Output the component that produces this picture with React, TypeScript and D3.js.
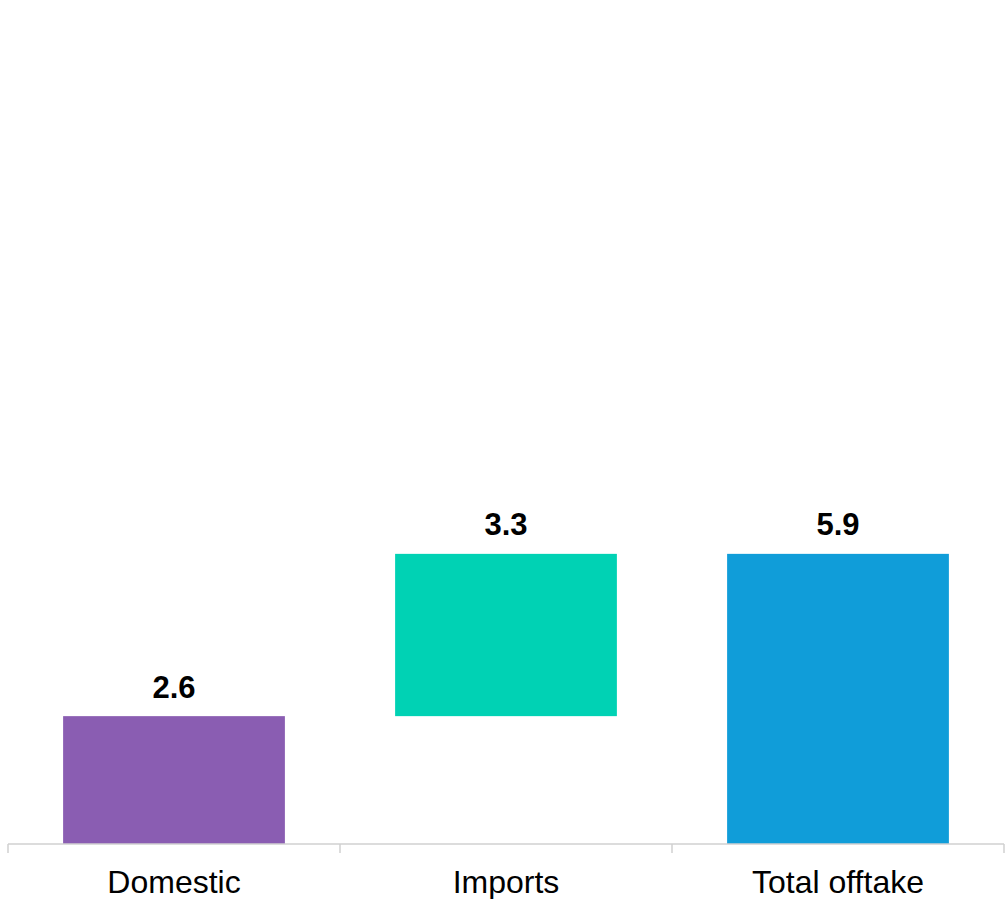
import React from "react";
import * as d3 from "d3";

const categories = ["Domestic", "Imports", "Total offtake"];
const startValues = [0, 2.6, 0];
const endValues = [2.6, 5.9, 5.9];
const labelValues = ["2.6", "3.3", "5.9"];
const colors = ["#8a5db2", "#00d2b4", "#109dd9"];

const W = 1005;
const H = 899;

export default function App() {
  const x = d3
    .scaleBand<string>()
    .domain(categories)
    .range([8, 1004])
    .paddingInner(0.332)
    .paddingOuter(0.166);
  const y = d3.scaleLinear().domain([0, 17]).range([844, 8]);
  const tickXs = [0, 1, 2, 3].map((i) => 8 + i * ((1004 - 8) / 3));
  const font = "Liberation Sans, Arial, sans-serif";

  return (
    <svg
      width={W}
      height={H}
      style={{ position: "absolute", left: 0, top: 0, background: "#fff" }}
      fontFamily={font}
    >
      {categories.map((c, i) => {
        const x0 = x(c)!;
        const top = y(Math.max(startValues[i], endValues[i]));
        const bot = y(Math.min(startValues[i], endValues[i]));
        return (
          <g key={c}>
            <rect x={x0} y={top} width={x.bandwidth()} height={bot - top} fill={colors[i]} />
            <text
              x={x0 + x.bandwidth() / 2}
              y={top - 18.5}
              textAnchor="middle"
              fontWeight="bold"
              fontSize={31}
              fill="#000"
            >
              {labelValues[i]}
            </text>
            <text
              x={x0 + x.bandwidth() / 2}
              y={893}
              textAnchor="middle"
              fontSize={32}
              fill="#000"
            >
              {c}
            </text>
          </g>
        );
      })}
      <line x1={8} x2={1004} y1={y(0)} y2={y(0)} stroke="#d0d0d0" strokeWidth={1.5} />
      {tickXs.map((tx, i) => (
        <line key={i} x1={tx} x2={tx} y1={y(0)} y2={y(0) + 9} stroke="#d0d0d0" strokeWidth={1.5} />
      ))}
    </svg>
  );
}
